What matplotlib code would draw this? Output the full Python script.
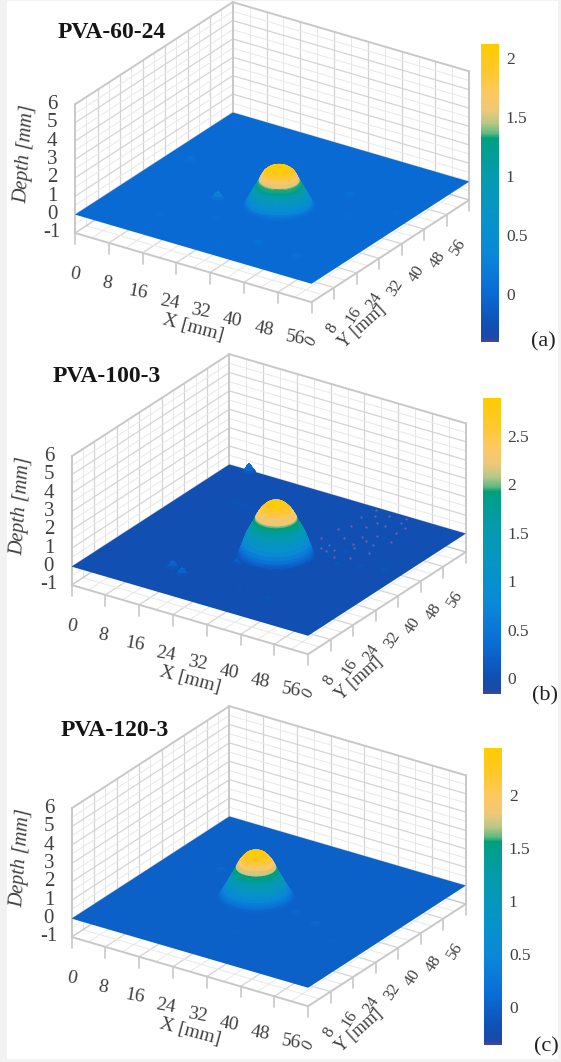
import numpy as np
import matplotlib
matplotlib.use("Agg")
import matplotlib.pyplot as plt
from matplotlib.cm import ScalarMappable
from matplotlib.colors import LinearSegmentedColormap, Normalize
from matplotlib.patches import Rectangle
from mpl_toolkits.mplot3d import proj3d

W, H = 561, 1062
plt.rcParams['font.family'] = ['Liberation Serif', 'DejaVu Serif']

# values
titles = ['PVA-60-24', 'PVA-100-3', 'PVA-120-3']
letters = ['(a)', '(b)', '(c)']
x_ticks = [0, 8, 16, 24, 32, 40, 48, 56]
y_ticks = [0, 8, 16, 24, 32, 40, 48, 56]
z_ticks = [-1, 0, 1, 2, 3, 4, 5, 6]
x_minor = [4, 12, 20, 28, 36, 44, 52]
y_minor = [4, 12, 20, 28, 36, 44, 52]
z_minor = [-0.5, 0.5, 1.5, 2.5, 3.5, 4.5, 5.5]

a_r = [0, .5, 1, 1.5, 2, 2.5, 3, 3.3, 3.6, 3.9, 4.0, 4.3, 4.6, 4.9, 5.2, 5.5, 5.8, 6.1, 6.4, 6.6, 6.8, 7.0, 7.2]
a_h = [2.12, 2.11, 2.09, 2.05, 2.00, 1.91, 1.80, 1.68, 1.54, 1.38, 1.33, 1.18, 1.03, .93, .78, .64, .50, .34, .20, .12, .05, .02, 0]
b_r = [0, .5, 1, 1.5, 2, 2.5, 3, 3.5, 4, 4.1, 4.4, 4.7, 5, 5.3, 5.6, 5.9, 6.2, 6.5, 6.8, 7.0, 7.2, 7.5, 7.8]
b_h = [2.88, 2.87, 2.83, 2.77, 2.68, 2.56, 2.42, 2.23, 2.00, 1.92, 1.78, 1.63, 1.50, 1.35, 1.20, 1.05, .84, .63, .45, .30, .18, .06, 0]
c_r = [0, .5, 1, 1.5, 2, 2.5, 3, 3.5, 3.9, 4.0, 4.3, 4.6, 4.9, 5.2, 5.5, 5.8, 6.1, 6.4, 6.7, 7.0, 7.2, 7.4, 7.6]
c_h = [2.42, 2.41, 2.38, 2.33, 2.25, 2.12, 1.96, 1.76, 1.55, 1.50, 1.32, 1.18, 1.05, .92, .77, .62, .48, .36, .24, .12, .07, .03, 0]
dome_x = [31.0, 30.2, 24.4]
dome_y = [26.0, 27.3, 28.9]

# small bumps on the plate: x, y, height
a_bumps = [(19.0, 22.2, .30), (46.5, 8.9, .10), (5.0, 33.6, .12), (39.8, 37.9, .10), (37.0, 9.7, .10),
           (45.0, 30.0, .05), (52.0, 36.0, .05), (24.0, 14.0, .04), (14.0, 9.0, .04)]
b_bumps = [(16.5, 11.1, .30), (19.8, 9.6, .30), (26.2, 19.9, .22), (5.0, 55.5, .40), (43.0, 30.0, .10),
           (47.0, 32.0, .08), (41.0, 36.0, .08), (40.0, 9.5, .08), (33.0, 10.0, .06), (11.0, 42.0, .06),
           (13.0, 42.0, .06), (15.0, 42.0, .06), (52.0, 33.0, .08), (44.0, 45.0, .06)]
c_bumps = [(35.0, 27.0, .08), (12.0, 35.0, .06), (41.0, 25.0, .08), (30.0, 13.0, .04), (48.0, 20.0, .04)]

# pinkish speckle next to the dome in panel b
speck_x = [33.5, 34.1, 34.8, 35.3, 36.0, 36.3, 36.9, 37.4, 38.1, 38.6, 39.2, 39.9, 40.4, 41.0, 41.5,
           42.2, 42.8, 43.3, 44.0, 44.6, 45.3, 46.0, 35.5, 37.8, 40.2, 42.6, 44.9, 36.6, 39.0, 41.7]
speck_y = [38.2, 43.4, 50.6, 46.1, 34.4, 31.1, 52.3, 40.7, 47.5, 35.3, 54.0, 43.2, 32.6, 49.8, 37.9,
           45.0, 52.8, 34.0, 41.2, 48.3, 37.8, 44.5, 54.8, 33.7, 39.6, 55.0, 51.2, 36.5, 50.1, 41.9]

cb_low = [-0.41, -0.165, -0.36]
cb_high = [2.12, 2.89, 2.44]
cb_ticks = [[0, 0.5, 1, 1.5, 2], [0, 0.5, 1, 1.5, 2, 2.5], [0, 0.5, 1, 1.5, 2]]
cb_labels = [['0', '0.5', '1', '1.5', '2'], ['0', '0.5', '1', '1.5', '2', '2.5'], ['0', '0.5', '1', '1.5', '2']]

# pixel layout of each panel
origin_px = [(75, 233), (71.6, 585), (71.6, 937)]
cb_box = [(481, 44, 18, 298), (483, 398, 17.5, 296), (484, 748, 18, 297)]
title_px = [(112, 32), (107, 377), (115, 730)]
letter_px = [(543, 342), (545, 696), (546, 1047)]

GREY = '#404040'
cmap = LinearSegmentedColormap.from_list('depth', [
    (0.00, '#46449a'), (0.015, '#1a4aa8'), (0.06, '#0f50b4'), (0.17, '#0a6cd6'),
    (0.30, '#0a88d8'), (0.42, '#0694c8'), (0.55, '#069ab0'), (0.66, '#009e8c'),
    (0.685, '#00a078'), (0.70, '#60b880'), (0.735, '#b8c888'), (0.78, '#f0c878'),
    (0.84, '#ffc860'), (0.90, '#ffc830'), (1.00, '#ffcc00')], N=512)


def px_rect(x, y, w, h):
    return [x / W, 1 - (y + h) / H, w / W, h / H]


def to_pixels(ax, x, y, z):
    X, Y, _ = proj3d.proj_transform(x, y, z, ax.get_proj())
    return ax.transData.transform((X, Y))


def place(ax, target):
    # move and scale the square axes until the box corner lands on the reference pixels
    ax.apply_aspect()
    p0 = to_pixels(ax, 0, 0, -1)
    p1 = to_pixels(ax, 56, 0, -1)
    scale = 236.5 / (p1[0] - p0[0])
    pos = ax.get_position()
    ax.set_position([pos.x0, pos.y0, pos.width * scale, pos.height * scale])
    ax.apply_aspect()
    p0 = to_pixels(ax, 0, 0, -1)
    pos = ax.get_position()
    ax.set_position([pos.x0 + (target[0] - p0[0]) / W, pos.y0 + (H - target[1] - p0[1]) / H,
                     pos.width, pos.height])
    ax.apply_aspect()


def line(ax, xs, ys, zs, col, lw):
    ax.plot(xs, ys, zs, color=col, lw=lw, zorder=1, solid_capstyle='round')


def draw_box(ax):
    for v, col, lw in [(t, '#d4d4d4', 0.9) for t in x_ticks[1:-1]] + [(t, '#e8e8e8', 0.7) for t in x_minor]:
        line(ax, [v, v], [56, 56], [-1, 6], col, lw)
        line(ax, [v, v], [0, 56], [-1, -1], col, lw)
        line(ax, [0, 0], [v, v], [-1, 6], col, lw)
        line(ax, [0, 56], [v, v], [-1, -1], col, lw)
    for v, col, lw in [(t, '#d4d4d4', 0.9) for t in z_ticks[1:-1]] + [(t, '#e8e8e8', 0.7) for t in z_minor]:
        line(ax, [0, 56], [56, 56], [v, v], col, lw)
        line(ax, [0, 0], [0, 56], [v, v], col, lw)
    edge = '#c8c8c8'
    line(ax, [0, 56], [0, 0], [-1, -1], edge, 1.4)
    line(ax, [56, 56], [0, 56], [-1, -1], edge, 1.4)
    line(ax, [0, 0], [0, 0], [-1, 6], edge, 1.4)
    line(ax, [0, 0], [56, 56], [-1, 6], edge, 1.4)
    line(ax, [56, 56], [56, 56], [-1, 6], edge, 1.4)
    line(ax, [0, 0], [0, 56], [6, 6], edge, 1.4)
    line(ax, [0, 56], [56, 56], [6, 6], edge, 1.4)
    line(ax, [0, 0], [0, 56], [-1, -1], edge, 1.0)
    line(ax, [0, 56], [56, 56], [-1, -1], edge, 1.0)
    # ticks hang straight down from the floor edges
    for t in x_ticks:
        line(ax, [t, t], [0, 0], [-1, -1.6], edge, 1.2)
    for t in y_ticks[1:]:
        line(ax, [56, 56], [t, t], [-1, -1.6], edge, 1.2)


def put_text(ax, x, y, z, s, **kw):
    # Text3D ignores rotation, so project the anchor and write plain text there
    X, Y, _ = proj3d.proj_transform(x, y, z, ax.get_proj())
    ax.text2D(X, Y, s, transform=ax.transData, color=GREY, ha='center', va='center', **kw)


def draw_labels(ax):
    for t in x_ticks:
        put_text(ax, t * 0.93, 0, -3.25, str(t), fontsize=14, rotation=-10)
    for t in y_ticks:
        put_text(ax, 56, t * 0.93, -3.15, str(t), fontsize=12, rotation=58)
    for t in z_ticks:
        put_text(ax, -3.7, -2.5, t, str(t), fontsize=15)
    put_text(ax, -11.85, 0, 2.5, 'Depth [mm]', fontsize=14.5, style='italic', rotation=86)
    put_text(ax, 28, 0, -4.26, 'X [mm]', fontsize=14, rotation=-15)
    put_text(ax, 56, 18, -4.1, 'Y [mm]', fontsize=13, rotation=42)


def revolve(ax, cx, cy, r, h, norm, zorder):
    a = np.linspace(0, 2 * np.pi, 73)
    rr, aa = np.meshgrid(np.array(r, dtype=float), a)
    zz = np.tile(np.array(h, dtype=float), (a.size, 1))
    ax.plot_surface(cx + rr * np.cos(aa), cy + rr * np.sin(aa), zz, facecolors=cmap(norm(zz)),
                    rstride=1, cstride=1, shade=False, linewidth=0.6, antialiased=True, zorder=zorder)


fig = plt.figure(figsize=(W / 100, H / 100), dpi=100, facecolor='#f2f2f2')
fig.add_artist(Rectangle((7 / W, 3 / H), (W - 10) / W, (H - 4) / H, transform=fig.transFigure,
                         facecolor='white', edgecolor='none', zorder=-5))

domes_r = [a_r, b_r, c_r]
domes_h = [a_h, b_h, c_h]
bumps = [a_bumps, b_bumps, c_bumps]
bump_r = [0, 0.4, 0.8, 1.2]
bump_f = [1, 0.75, 0.25, 0]

for i in range(3):
    norm = Normalize(cb_low[i], cb_high[i])
    ax = fig.add_axes(px_rect(0, 0, 500, 500), projection='3d', computed_zorder=False)
    ax.patch.set_alpha(0)
    ax.set_proj_type('ortho')
    ax.view_init(elev=25.8, azim=-56.1)
    ax.set_box_aspect((283.5, 281.4, 142.2))
    ax.set_xlim(0, 56)
    ax.set_ylim(0, 56)
    ax.set_zlim(-1, 6)
    ax.set_axis_off()
    place(ax, origin_px[i])

    draw_box(ax)

    xp, yp = np.meshgrid([0.0, 56.0], [0.0, 56.0])
    zp = np.zeros_like(xp)
    ax.plot_surface(xp, yp, zp, color=cmap(norm(0.0)), shade=False, linewidth=0, zorder=2)
    for bx, by, bh in bumps[i]:
        revolve(ax, bx, by, bump_r, [bh * f for f in bump_f], norm, 3)
    if i == 1:
        ax.scatter(speck_x, speck_y, [0.02] * len(speck_x), s=2.5, c='#8a6fb0', alpha=0.7, linewidths=0,
                   depthshade=False, zorder=3)
    revolve(ax, dome_x[i], dome_y[i], domes_r[i], domes_h[i], norm, 4)

    draw_labels(ax)

    cax = fig.add_axes(px_rect(*cb_box[i]))
    cb = fig.colorbar(ScalarMappable(norm=norm, cmap=cmap), cax=cax, ticks=cb_ticks[i])
    cb.ax.set_yticklabels(cb_labels[i], fontsize=12.5, color=GREY)
    cb.ax.tick_params(length=0, pad=5)
    cb.outline.set_visible(False)

    fig.text(title_px[i][0] / W, 1 - title_px[i][1] / H, titles[i], fontsize=17, fontweight='bold',
             color='#151515', ha='center', va='center')
    fig.text(letter_px[i][0] / W, 1 - letter_px[i][1] / H, letters[i], fontsize=16, color='#202020',
             ha='center', va='center')

fig.savefig('out.png', dpi=100, facecolor=fig.get_facecolor())
